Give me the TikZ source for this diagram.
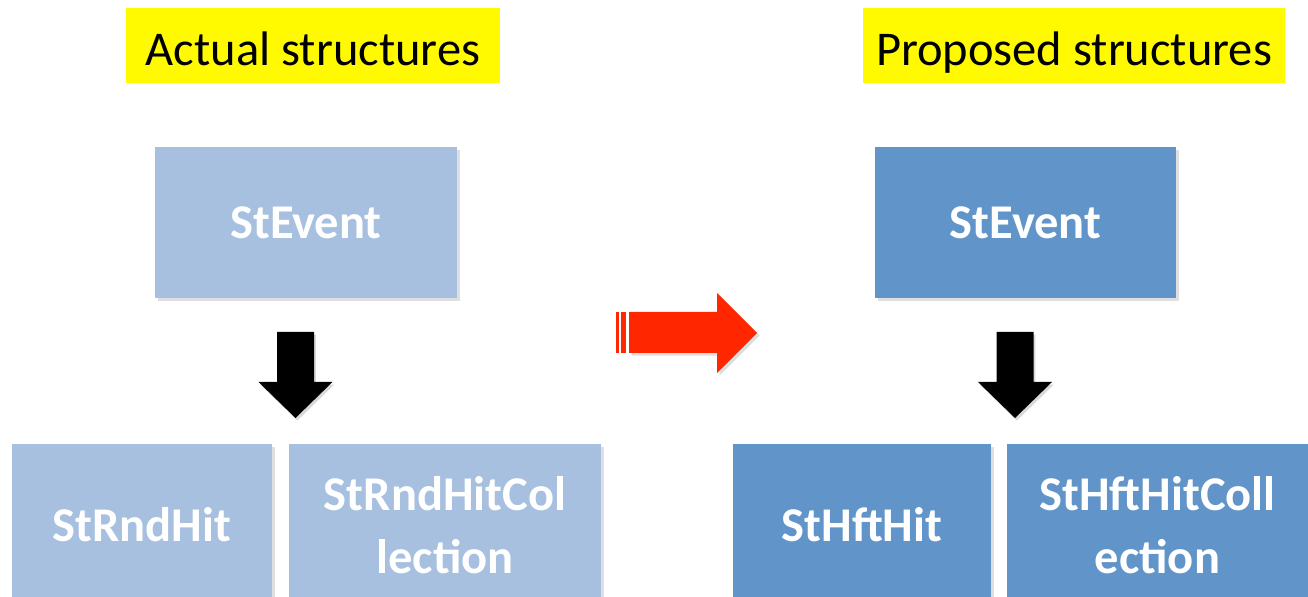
\documentclass[tikz,border=0pt]{standalone}
\usepackage{fontspec}
\setmainfont{Carlito}
\usetikzlibrary{shadows}

\definecolor{hiliteyellow}{RGB}{255,250,0}
\definecolor{oldblue}{RGB}{167,192,223}
\definecolor{newblue}{RGB}{97,148,201}
\definecolor{arrowred}{RGB}{255,38,0}

\begin{document}
\begin{tikzpicture}[x=0.02cm, y=-0.02cm,
    title/.style={fill=hiliteyellow, inner sep=0pt, text height=0.82cm, text depth=0pt,
      font=\fontsize{27.6}{33}\selectfont},
    structbox/.style={inner sep=0pt, align=center, text=white,
      font=\fontsize{27.6}{36}\selectfont\bfseries,
      drop shadow={opacity=0.25, shadow xshift=1.5pt, shadow yshift=-1.5pt}},
    oldbox/.style={structbox, fill=oldblue},
    newbox/.style={structbox, fill=newblue}]
    \useasboundingbox (0, 0) rectangle (1308, 597);
    \clip (0, 0) rectangle (1308, 597);

    % headings
    \node[title, minimum width=7.48cm, minimum height=1.5cm] (actual) at (313, 45.5) {Actual structures};
    \node[title, minimum width=8.44cm, minimum height=1.5cm] (proposed) at (1074, 45.5) {Proposed structures};

    % actual
    \node[oldbox, minimum width=6.04cm, minimum height=3.02cm] (eventA) at (306, 222.5) {StEvent};
    \node[oldbox, minimum width=5.2cm, minimum height=3.24cm] (hitA) at (142, 525) {StRndHit};
    \node[oldbox, minimum width=6.24cm, minimum height=3.24cm] (collA) at (445, 525) {StRndHitCol\\lection};

    % proposed
    \node[newbox, minimum width=6.02cm, minimum height=3.02cm] (eventP) at (1025.5, 222.5) {StEvent};
    \node[newbox, minimum width=5.16cm, minimum height=3.24cm] (hitP) at (862, 525) {StHftHit};
    \node[newbox, minimum width=6.02cm, minimum height=3.24cm] (collP) at (1157.5, 525) {StHftHitColl\\ection};

    % down arrows
    \foreach \cx in {295.5, 1015}
      \fill[black, drop shadow={opacity=0.3, shadow xshift=1pt, shadow yshift=-1.5pt}]
        (\cx-18.5, 332) -- (\cx+18.5, 332) -- (\cx+18.5, 382) -- (\cx+37, 382)
        -- (\cx, 418) -- (\cx-37, 382) -- (\cx-18.5, 382) -- cycle;

    % red arrow
    \fill[arrowred] (616, 312) rectangle (619, 353);
    \fill[arrowred] (621, 312) rectangle (626, 353);
    \fill[arrowred, drop shadow={opacity=0.25, shadow xshift=1.5pt, shadow yshift=-1.5pt}]
      (629, 312) -- (717, 312) -- (717, 293) -- (757, 333) -- (717, 373) -- (717, 353) -- (629, 353) -- cycle;
  \end{tikzpicture}
\end{document}
